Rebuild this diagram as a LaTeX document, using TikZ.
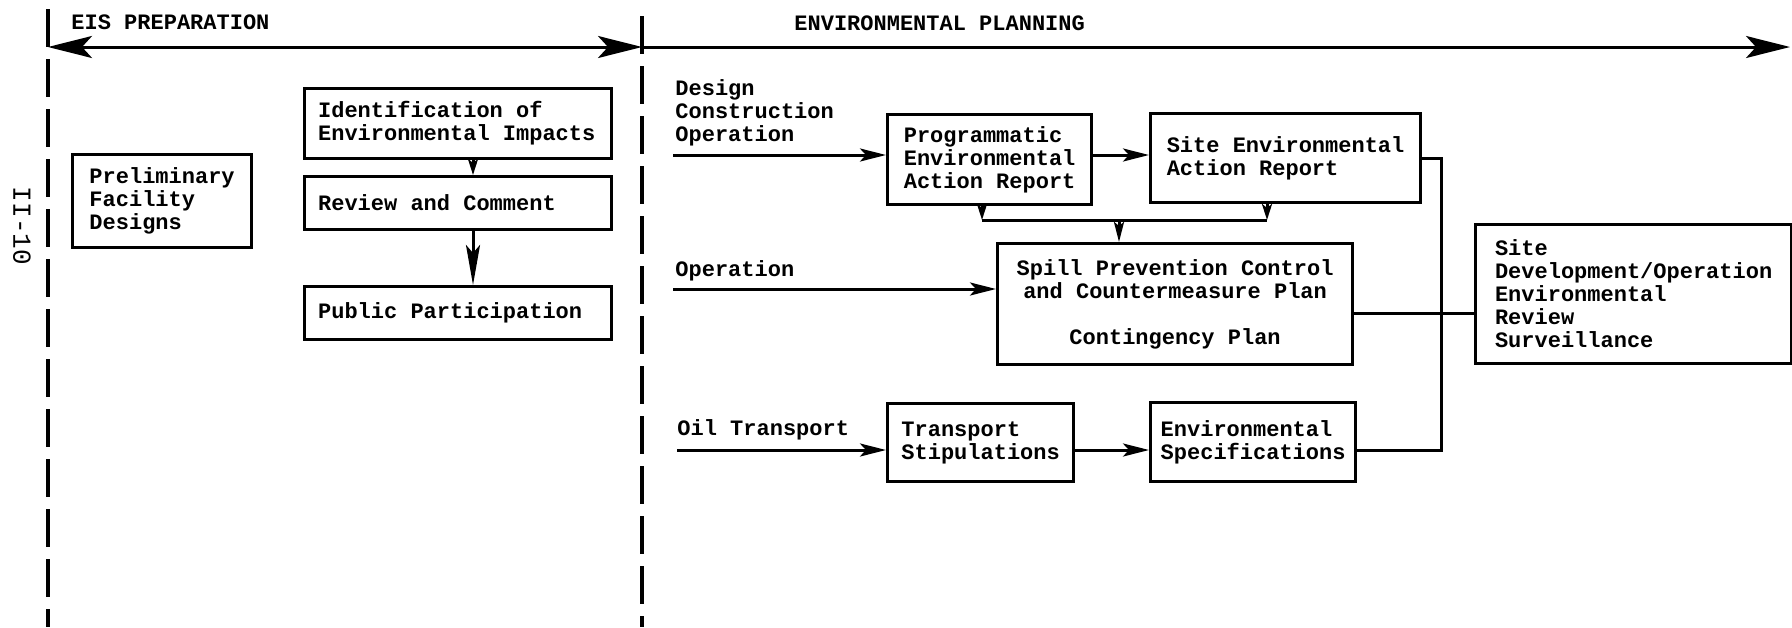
\documentclass[tikz,border=0pt]{standalone}
\usepackage{fontspec}
\setmainfont{Liberation Mono}
\usetikzlibrary{arrows.meta}
\tikzset{
  box/.style 2 args={draw, line width=1.6pt, anchor=north west, align=flush left,
    inner sep=0pt, minimum width=#1, minimum height=#2},
  lbl/.style={anchor=west, inner sep=0pt, align=flush left},
  link/.style={line width=1.5pt},
  phase/.style={dash pattern=on 19pt off 6pt, line width=2.2pt},
  bigtip/.tip={Stealth[length=22pt, width=11pt, inset=5pt]},
  big/.style={-bigtip},
  mid/.style={-{Stealth[length=13pt, width=6.5pt, inset=3pt]}},
  tiny/.style={-{Stealth[length=8pt, width=5pt, inset=2pt]}},
}

\begin{document}
\begin{tikzpicture}[x=0.5pt, y=-0.5pt, font=\bfseries\fontsize{11}{11.5}\selectfont]
  \useasboundingbox (0,0) rectangle (1792,627);

  % phases
  \coordinate (eisL) at (48,47);
  \coordinate (split) at (642,47);
  \coordinate (endR) at (1790,47);
  \draw[phase] (48,9) -- (48,627);
  \draw[phase] (642,16) -- (642,627);
  \draw[link, bigtip-bigtip] (eisL) -- (split);
  \draw[link, big] (split) -- (endR);
  \node[lbl] (eis) at (71,22) {EIS PREPARATION};
  \node[lbl] (envp) at (794,23) {ENVIRONMENTAL PLANNING};
  \node[font=\mdseries\fontsize{13}{13}\selectfont, rotate=-90] (pageno) at (22,226) {II-10};

  % EIS preparation
  \node[box={89.5pt}{46.5pt}] (prelim) at (71,153) {Preliminary\\Facility\\Designs};
  \node[box={153.5pt}{35pt}, text width=140pt] (ident) at (303,87) {Identification of\\Environmental Impacts};
  \node[box={153.5pt}{26.5pt}, text width=140pt] (review) at (303,175) {Review and Comment};
  \node[box={153.5pt}{26.5pt}, text width=140pt] (public) at (303,285) {Public Participation};
  \coordinate (col) at (473,0);
  \draw[link, tiny] (col |- ident.south) -- (col |- review.north);
  \draw[link, -{Stealth[length=20pt, width=7pt, inset=4pt]}] (col |- review.south) -- (col |- public.north);

  % environmental planning
  \node[lbl] (dco) at (675,113) {Design\\Construction\\Operation};
  \node[lbl] (opl) at (675,271) {Operation};
  \node[lbl] (oil) at (677,430) {Oil Transport};

  \node[box={102pt}{45pt}] (prog) at (886,113) {Programmatic\\Environmental\\Action Report};
  \node[box={135pt}{44.5pt}] (siteenv) at (1149,112) {Site Environmental\\Action Report};
  \node[box={177.5pt}{60.5pt}, align=center] (spill) at (996,242) {Spill Prevention Control\\and Countermeasure Plan\\[11.5pt]Contingency Plan};
  \node[box={158pt}{69.5pt}] (sitedev) at (1474,223) {Site\\Development/Operation\\Environmental\\Review\\Surveillance};
  \node[box={93pt}{39pt}] (trans) at (886,402) {Transport\\Stipulations};
  \node[box={102.5pt}{39.5pt}] (envspec) at (1149,401) {Environmental\\Specifications};

  \coordinate (inA) at (673,155);
  \coordinate (inB) at (673,289);
  \coordinate (inC) at (677,450);
  \draw[link, mid] (inA) -- (inA -| prog.west);
  \draw[link, mid] (inB) -- (inB -| spill.west);
  \draw[link, mid] (inC) -- (inC -| trans.west);
  \draw[link, mid] (prog.east |- inA) -- (inA -| siteenv.west);
  \draw[link, mid] (trans.east |- inC) -- (inC -| envspec.west);

  \coordinate (dropA) at (982,220);
  \coordinate (dropB) at (1267,220);
  \coordinate (join) at (1119,220);
  \draw[link] (dropA) -- (dropB);
  \draw[link, tiny] (dropA |- prog.south) -- (dropA);
  \draw[link, tiny] (dropB |- siteenv.south) -- (dropB);
  \draw[link, -{Stealth[length=10pt, width=5pt, inset=2pt]}] (join) -- (join |- spill.north);

  \coordinate (bus) at (1441,313);
  \draw[link] (siteenv.east) -| (bus) |- (envspec.east |- inC);
  \draw[link] (spill.east |- bus) -- (bus -| sitedev.west);
\end{tikzpicture}
\end{document}
